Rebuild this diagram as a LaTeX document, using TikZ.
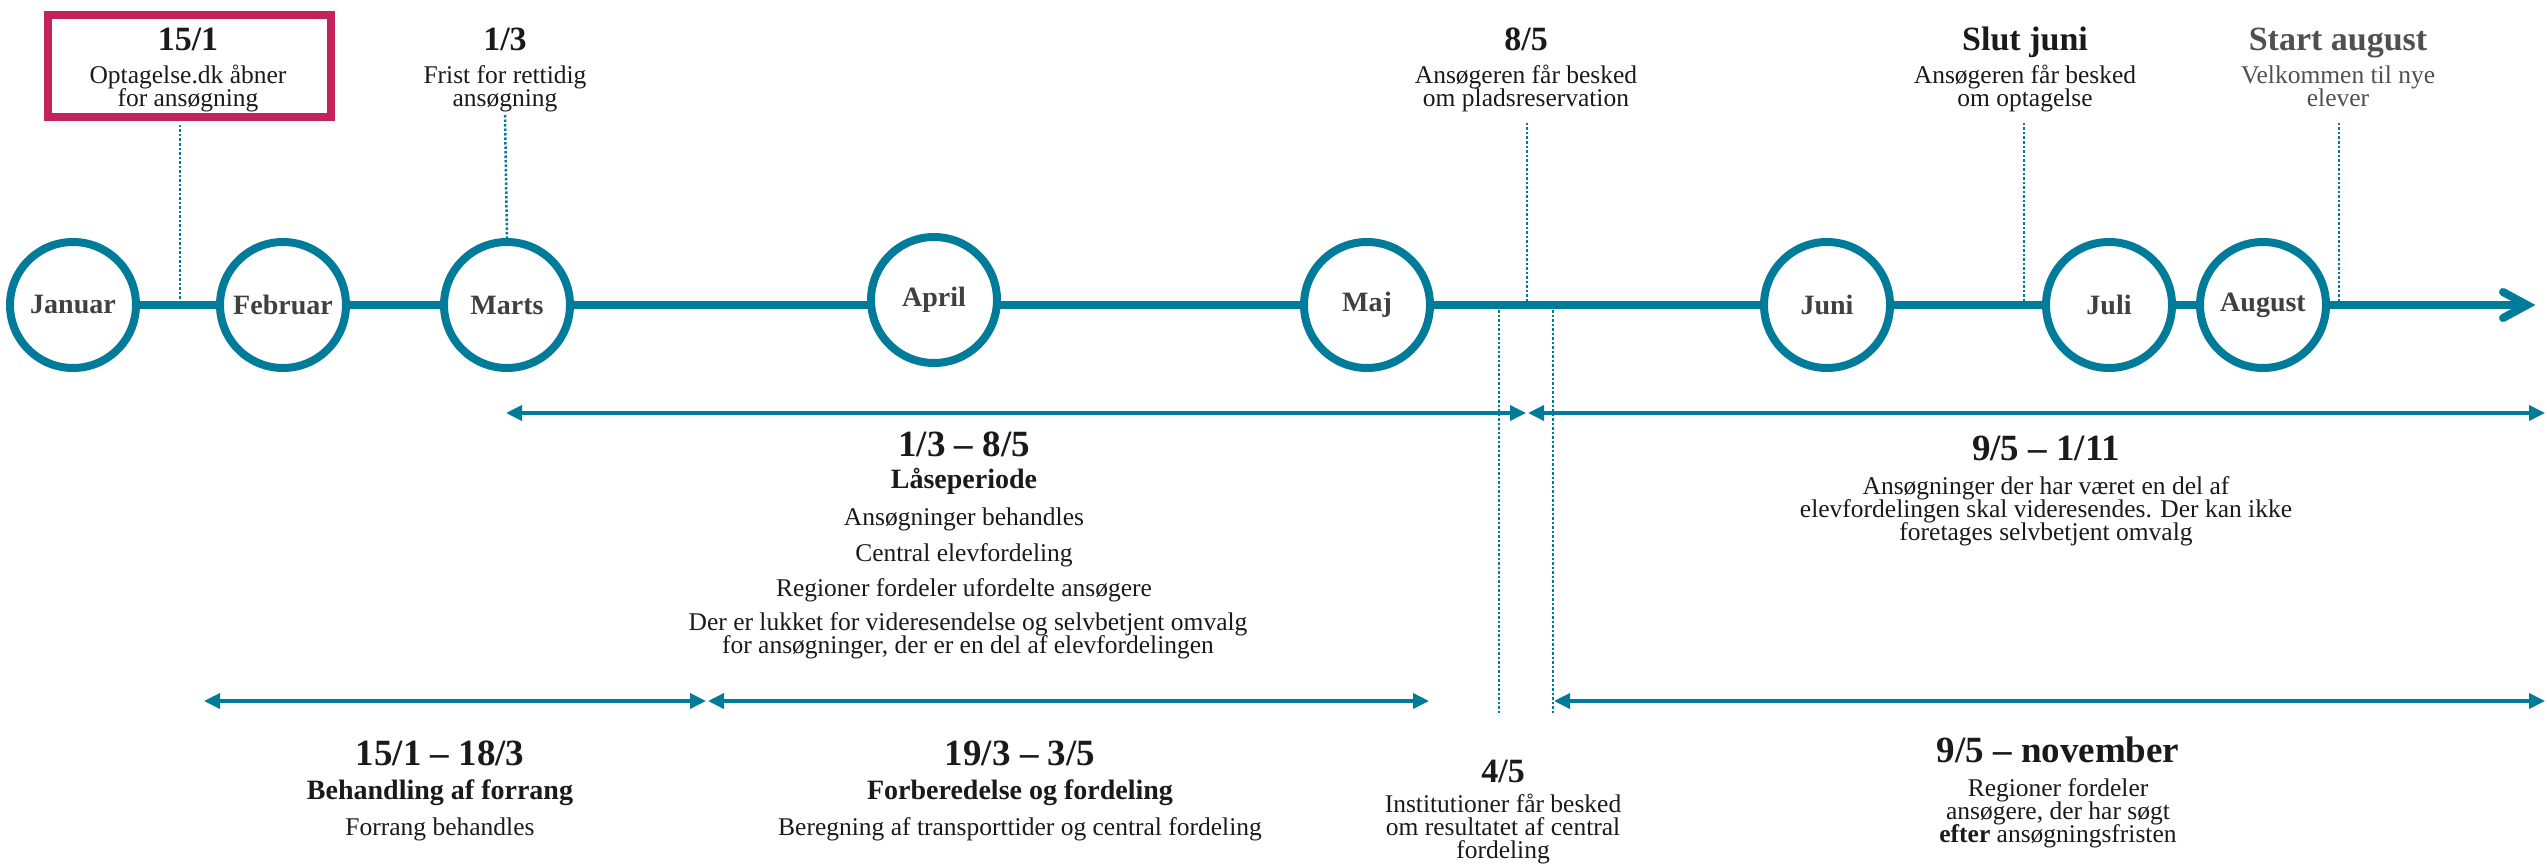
\documentclass[tikz,border=0pt]{standalone}
\usepackage{fontspec}
\setmainfont{Liberation Serif}
\usetikzlibrary{arrows.meta,backgrounds}
\definecolor{teal1}{HTML}{007B99}
\definecolor{crim}{HTML}{C4225A}
\definecolor{ink}{HTML}{1A1A1A}
\definecolor{greytxt}{HTML}{505050}
\definecolor{monthc}{HTML}{404040}
\begin{document}
\begin{tikzpicture}[x=1pt,y=-1pt,
  month/.style={circle, draw=teal1, line width=8pt, fill=white, minimum size=126pt, inner sep=0pt, font=\fontsize{28}{30}\selectfont\bfseries, text=monthc},
  datelbl/.style={font=\fontsize{34}{36}\selectfont\bfseries, text=ink, anchor=base, inner sep=0pt},
  bodytxt/.style={font=\fontsize{25.5}{28}\selectfont, text=ink, anchor=base, inner sep=0pt, text height=13pt, text depth=4pt},
  rangelbl/.style={font=\fontsize{37}{40}\selectfont\bfseries, text=ink, anchor=base, inner sep=0pt},
  subtxt/.style={font=\fontsize{28}{30}\selectfont\bfseries, text=ink, anchor=base, inner sep=0pt},
  span/.style={draw=teal1, line width=3.5pt, {Triangle[length=16pt,width=15pt]}-{Triangle[length=16pt,width=15pt]}},
  guide/.style={draw=teal1, line width=2.5pt, dash pattern=on 2.5pt off 2pt},
  axisline/.style={draw=teal1, line width=8pt}
]
\useasboundingbox (0,0) rectangle (2547,864);

% month circles
\node[month] (jan) at (73,305) {Januar};
\node[month] (feb) at (283,305) {Februar};
\node[month] (mar) at (507,305) {Marts};
\node[month] (apr) at (934,300) {April};
\node[month] (maj) at (1367,305) {Maj};
\node[month] (jun) at (1827,305) {Juni};
\node[month] (jul) at (2109,305) {Juli};
\node[month] (aug) at (2263,305) {August};

\coordinate (axend) at (2527,305);
\coordinate (chevA) at (2503,292);
\coordinate (chevB) at (2503,318);

\begin{scope}[on background layer]
  \fill[white] (0,0) rectangle (2547,864);
  \draw[axisline] (jan.center) -- (axend);
\end{scope}
\draw[teal1, line width=8pt, line cap=round, line join=miter] (chevA) -- (axend) -- (chevB);

% top: 15/1
\node[draw=crim, line width=8pt, minimum width=283pt, minimum height=102pt, inner sep=0pt] (redbox) at (189.5,66) {};
\node[datelbl] (d151) at (188,51) {15/1};
\node[bodytxt] (t151a) at (188,84) {Optagelse.dk åbner};
\node[bodytxt] (t151b) at (188,107) {for ansøgning};
\coordinate (g151t) at (180,125);
\coordinate (g151b) at (180,301);
\draw[guide] (g151t) -- (g151b);

% top: 1/3
\node[datelbl] (d13) at (505,51) {1/3};
\node[bodytxt] (t13a) at (505,84) {Frist for rettidig};
\node[bodytxt] (t13b) at (505,107) {ansøgning};
\coordinate (g13t) at (505,115);
\draw[guide] (g13t) -- (mar.north);

% top: 8/5
\node[datelbl] (d85) at (1526,51) {8/5};
\node[bodytxt] (t85a) at (1526,84) {Ansøgeren får besked};
\node[bodytxt] (t85b) at (1526,107) {om pladsreservation};
\coordinate (g85t) at (1527,123);
\coordinate (g85b) at (1527,301);
\draw[guide] (g85t) -- (g85b);

% top: slut juni
\node[datelbl] (dsj) at (2025,51) {Slut juni};
\node[bodytxt] (tsja) at (2025,84) {Ansøgeren får besked};
\node[bodytxt] (tsjb) at (2025,107) {om optagelse};
\coordinate (gsjt) at (2024,123);
\coordinate (gsjb) at (2024,301);
\draw[guide] (gsjt) -- (gsjb);

% top: start august
\node[datelbl, text=greytxt] (dsa) at (2338,51) {Start august};
\node[bodytxt, text=greytxt] (tsaa) at (2338,84) {Velkommen til nye};
\node[bodytxt, text=greytxt] (tsab) at (2338,107) {elever};
\coordinate (gsat) at (2339,123);
\coordinate (gsab) at (2339,301);
\draw[guide] (gsat) -- (gsab);

% lower guides
\coordinate (gl1t) at (1499,310);
\coordinate (gl1b) at (1499,715);
\coordinate (gl2t) at (1553,310);
\coordinate (gl2b) at (1553,715);
\draw[guide] (gl1t) -- (gl1b);
\draw[guide] (gl2t) -- (gl2b);

% upper spans
\coordinate (s1a) at (506,413);
\coordinate (s1b) at (1526,413);
\coordinate (s2a) at (1528,413);
\coordinate (s2b) at (2545,413);
\draw[span] (s1a) -- (s1b);
\draw[span] (s2a) -- (s2b);

% lower spans
\coordinate (b1a) at (204,701);
\coordinate (b1b) at (706,701);
\coordinate (b2a) at (708,701);
\coordinate (b2b) at (1429,701);
\coordinate (b3a) at (1554,701);
\coordinate (b3b) at (2545,701);
\draw[span] (b1a) -- (b1b);
\draw[span] (b2a) -- (b2b);
\draw[span] (b3a) -- (b3b);

% middle block 1/3 - 8/5
\node[rangelbl] (r1) at (964,456) {1/3 – 8/5};
\node[subtxt] (r1s) at (964,488) {Låseperiode};
\node[bodytxt] (r1a) at (964,525) {Ansøgninger behandles};
\node[bodytxt] (r1b) at (964,561) {Central elevfordeling};
\node[bodytxt] (r1c) at (964,596) {Regioner fordeler ufordelte ansøgere};
\node[bodytxt] (r1d) at (968,630) {Der er lukket for videresendelse og selvbetjent omvalg};
\node[bodytxt] (r1e) at (968,653) {for ansøgninger, der er en del af elevfordelingen};

% right block 9/5 - 1/11
\node[rangelbl] (r2) at (2046,460) {9/5 – 1/11};
\node[bodytxt] (r2a) at (2046,494) {Ansøgninger der har været en del af};
\node[bodytxt] (r2b) at (2046,517) {elevfordelingen skal videresendes. Der kan ikke};
\node[bodytxt] (r2c) at (2046,540) {foretages selvbetjent omvalg};

% bottom blocks
\node[rangelbl] (r3) at (440,765) {15/1 – 18/3};
\node[subtxt] (r3s) at (440,799) {Behandling af forrang};
\node[bodytxt] (r3a) at (440,835) {Forrang behandles};

\node[rangelbl] (r4) at (1020,765) {19/3 – 3/5};
\node[subtxt] (r4s) at (1020,799) {Forberedelse og fordeling};
\node[bodytxt] (r4a) at (1020,835) {Beregning af transporttider og central fordeling};

\node[datelbl] (r5) at (1503,782) {4/5};
\node[bodytxt] (r5a) at (1503,812) {Institutioner får besked};
\node[bodytxt] (r5b) at (1503,835) {om resultatet af central};
\node[bodytxt] (r5c) at (1503,858) {fordeling};

\node[rangelbl] (r6) at (2058,762) {9/5 – november};
\node[bodytxt] (r6a) at (2058,796) {Regioner fordeler};
\node[bodytxt] (r6b) at (2058,819) {ansøgere, der har søgt};
\node[bodytxt] (r6c) at (2058,842) {\textbf{efter} ansøgningsfristen};
\end{tikzpicture}
\end{document}
